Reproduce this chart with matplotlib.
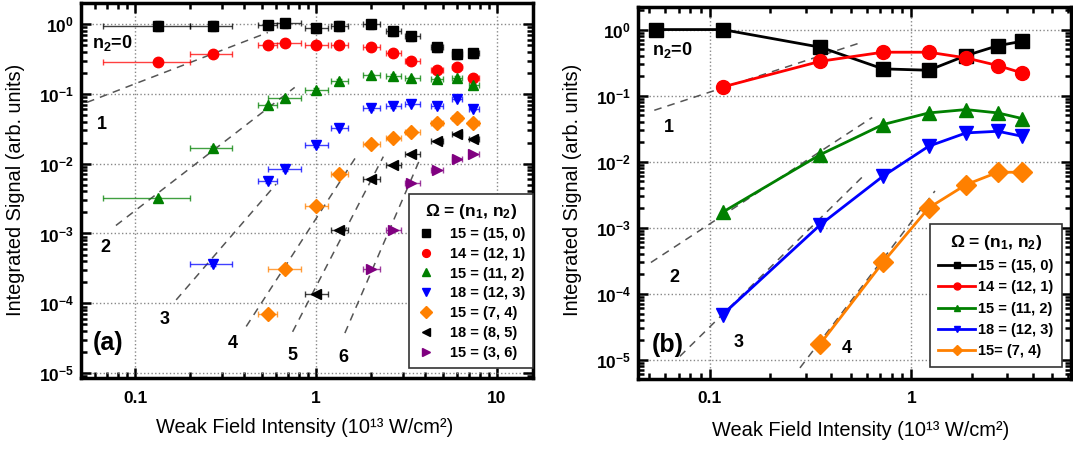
import numpy as np
import matplotlib
matplotlib.use("Agg")
import matplotlib.pyplot as plt
from matplotlib.ticker import FixedLocator, FuncFormatter, LogLocator, NullFormatter

plt.rcParams['font.family'] = ['Liberation Sans', 'DejaVu Sans']
plt.rcParams['mathtext.fontset'] = 'custom'
plt.rcParams['mathtext.rm'] = 'Liberation Sans:bold'
plt.rcParams['mathtext.it'] = 'Liberation Sans:bold'
plt.rcParams['mathtext.bf'] = 'Liberation Sans:bold'
plt.rcParams['mathtext.default'] = 'regular'

# ---------------- Panel (a) data ----------------
xa = [0.133, 0.267, 0.54, 0.67, 1.0, 1.33, 2.0, 2.67, 3.33, 4.67, 6.0, 7.4]
xa_lo = [0.066, 0.20, 0.475, 0.54, 0.87, 1.20, 1.81, 2.44, 3.08, 4.33, 5.6, 7.0]
xa_hi = [0.20, 0.34, 0.61, 0.82, 1.16, 1.50, 2.24, 2.96, 3.74, 5.03, 6.4, 7.9]

a_labels = ["15 = (15, 0)", "14 = (12, 1)", "15 = (11, 2)", "18 = (12, 3)",
            "15 = (7, 4)", "18 = (8, 5)", "15 = (3, 6)"]
a_start = [0, 0, 0, 1, 2, 4, 6]
a_y15_0 = [0.95, 0.95, 0.97, 1.02, 0.87, 0.95, 1.0, 0.785, 0.665, 0.47, 0.37, 0.38]
a_y14_1 = [0.29, 0.37, 0.50, 0.53, 0.50, 0.50, 0.47, 0.39, 0.30, 0.22, 0.24, 0.17]
a_y15_2 = [0.0032, 0.0169, 0.0686, 0.0865, 0.114, 0.153, 0.185, 0.181, 0.168, 0.162, 0.171, 0.133]
a_y18_3 = [3.6e-4, 5.6e-3, 8.4e-3, 0.0185, 0.0327, 0.062, 0.067, 0.072, 0.067, 0.085, 0.061]
a_y15_4 = [7.0e-5, 3.1e-4, 2.45e-3, 7.0e-3, 0.0189, 0.0235, 0.0287, 0.0386, 0.0456, 0.0378]
a_y18_5 = [1.36e-4, 1.11e-3, 6.1e-3, 9.5e-3, 0.0136, 0.0211, 0.0269, 0.0228]
a_y15_6 = [3.1e-4, 1.11e-3, 5.2e-3, 8.1e-3, 0.0117, 0.0136]
a_yerr_frac = [0.15, 0.05, 0.05, 0.05, 0.0, 0.0, 0.0]

a_colors = ['black', '#ff0000', '#008000', '#0000ff', '#ff8000', 'black', '#800080']
a_markers = ['s', 'o', '^', 'v', 'D', '<', '>']

a_guide_power = [1, 2, 3, 4, 5, 6]
a_guide_coef = [1.4, 0.214, 0.0236, 1.65e-3, 1.76e-4, 4.2e-6]
a_guide_xmin = [0.054, 0.078, 0.168, 0.41, 0.74, 1.44]
a_guide_xmax = [0.54, 0.76, 0.60, 1.70, 2.35, 3.8]

# ---------------- Panel (b) data ----------------
xb = [0.054, 0.1156, 0.354, 0.723, 1.22, 1.87, 2.69, 3.55]
b_labels = ["15 = (15, 0)", "14 = (12, 1)", "15 = (11, 2)", "18 = (12, 3)", "15= (7, 4)"]
b_start = [0, 1, 1, 1, 2]
b_y15_0 = [1.0, 1.0, 0.54, 0.254, 0.242, 0.404, 0.57, 0.665]
b_y14_1 = [0.135, 0.331, 0.454, 0.454, 0.372, 0.285, 0.22]
b_y15_2 = [1.71e-3, 0.0128, 0.0364, 0.0546, 0.0614, 0.0546, 0.0449]
b_y18_3 = [4.8e-5, 1.11e-3, 6.0e-3, 0.0171, 0.0272, 0.0288, 0.0242]
b_y15_4 = [1.75e-5, 2.98e-4, 1.99e-3, 4.48e-3, 6.9e-3, 6.9e-3]
b_colors = ['black', '#ff0000', '#008000', '#0000ff', '#ff8000']
b_markers = ['s', 'o', '^', 'v', 'D']

b_guide_power = [1, 2, 3, 4]
b_guide_coef = [1.13, 0.114, 0.0314, 1.22e-3]
b_guide_xmin = [0.053, 0.051, 0.071, 0.28]
b_guide_xmax = [0.55, 0.64, 0.57, 1.31]

# ---------------- Figure ----------------
fig = plt.figure(figsize=(10.73, 4.49), dpi=100)
axa = fig.add_axes([0.0755, 0.158, 0.4212, 0.8353])
axb = fig.add_axes([0.5946, 0.156, 0.4035, 0.8285])


def style_axes(ax, xlim, ylim, xticks):
    ax.set_xscale('log')
    ax.set_yscale('log')
    ax.set_xlim(*xlim)
    ax.set_ylim(*ylim)
    ax.xaxis.set_major_locator(FixedLocator(xticks))
    ax.xaxis.set_major_formatter(FuncFormatter(lambda v, p: ('%g' % v)))
    ax.xaxis.set_minor_locator(LogLocator(base=10, subs=np.arange(2, 10), numticks=20))
    ax.xaxis.set_minor_formatter(NullFormatter())
    yt = [1e-5, 1e-4, 1e-3, 1e-2, 1e-1, 1e0]
    ax.yaxis.set_major_locator(FixedLocator(yt))
    ax.yaxis.set_major_formatter(FuncFormatter(lambda v, p: r'10$^{%d}$' % int(round(np.log10(v)))))
    ax.yaxis.set_minor_locator(LogLocator(base=10, subs=np.arange(2, 10), numticks=20))
    ax.yaxis.set_minor_formatter(NullFormatter())
    ax.tick_params(which='both', direction='in', top=True, right=True, width=1.8)
    ax.tick_params(which='major', length=7, labelsize=12.5, pad=5)
    ax.tick_params(axis='x', which='major', pad=9)
    ax.tick_params(which='minor', length=4)
    for lbl in ax.get_xticklabels() + ax.get_yticklabels():
        lbl.set_fontweight('bold')
    for s in ax.spines.values():
        s.set_linewidth(2.5)
    ax.grid(True, which='major', color='#888888', linestyle=':', linewidth=1.0)
    ax.set_axisbelow(True)


style_axes(axa, (0.05, 15.8), (8.5e-6, 2.0), [0.1, 1, 10])
style_axes(axb, (0.044, 6.2), (5.1e-6, 2.2), [0.1, 1])

# Panel (a) guides
for p, c, x0, x1 in zip(a_guide_power, a_guide_coef, a_guide_xmin, a_guide_xmax):
    gx = np.array([x0, x1])
    axa.plot(gx, c * gx ** p, color='#555555', lw=1.1, dashes=(5, 4), zorder=2)

# Panel (a) series
a_series = [a_y15_0, a_y14_1, a_y15_2, a_y18_3, a_y15_4, a_y18_5, a_y15_6]
for ys, st, col, mk, lab, yf in zip(a_series, a_start, a_colors, a_markers, a_labels, a_yerr_frac):
    xs = np.array(xa[st:st + len(ys)])
    lo = xs - np.array(xa_lo[st:st + len(ys)])
    hi = np.array(xa_hi[st:st + len(ys)]) - xs
    yv = np.array(ys)
    yerr = yv * yf if yf > 0 else None
    axa.errorbar(xs, yv, xerr=[lo, hi], yerr=yerr, fmt='none', ecolor=col,
                 elinewidth=1.0, capsize=2.5, capthick=1.0, alpha=0.75, zorder=3)
    axa.plot(xs, yv, linestyle='none', marker=mk, color=col, markersize=7.5,
             label=lab, zorder=4)

leg = axa.legend(loc='lower right', bbox_to_anchor=(1.0, 0.027), borderaxespad=0,
                 frameon=True, fancybox=False, edgecolor='#333333', framealpha=1,
                 prop={'weight': 'bold', 'size': 10.5}, markerscale=0.75,
                 handlelength=1.2, handletextpad=1.0, labelspacing=0.4,
                 borderpad=0.55, title=r'$\Omega$ = (n$_1$, n$_2$)',
                 title_fontproperties={'weight': 'bold', 'size': 12.5})
leg.get_frame().set_linewidth(1.2)

# Panel (a) text
ta = dict(transform=axa.transAxes, fontsize=13, fontweight='bold', va='center')
axa.text(0.024, 0.893, r'n$_2$=0', ha='left', **ta)
axa.text(0.046, 0.675, '1', ha='center', **ta)
axa.text(0.053, 0.347, '2', ha='center', **ta)
axa.text(0.184, 0.155, '3', ha='center', **ta)
axa.text(0.336, 0.093, '4', ha='center', **ta)
axa.text(0.467, 0.061, '5', ha='center', **ta)
axa.text(0.580, 0.056, '6', ha='center', **ta)
axa.text(0.027, 0.093, '(a)', transform=axa.transAxes, fontsize=18, fontweight='bold',
         ha='left', va='center')

# Panel (b) guides
for p, c, x0, x1 in zip(b_guide_power, b_guide_coef, b_guide_xmin, b_guide_xmax):
    gx = np.array([x0, x1])
    axb.plot(gx, c * gx ** p, color='#555555', lw=1.1, dashes=(5, 4), zorder=2)

# Panel (b) series
b_series = [b_y15_0, b_y14_1, b_y15_2, b_y18_3, b_y15_4]
for ys, st, col, mk, lab in zip(b_series, b_start, b_colors, b_markers, b_labels):
    xs = np.array(xb[st:st + len(ys)])
    axb.plot(xs, ys, linestyle='-', linewidth=2.0, marker=mk, color=col,
             markersize=10, label=lab, zorder=4)

legb = axb.legend(loc='lower right', bbox_to_anchor=(0.979, 0.032), borderaxespad=0,
                  frameon=True, fancybox=False, edgecolor='#333333', framealpha=1,
                  prop={'weight': 'bold', 'size': 10.5}, markerscale=0.5,
                  handlelength=2.5, handletextpad=0.2, labelspacing=0.5,
                  borderpad=0.6, title=r'$\Omega$ = (n$_1$, n$_2$)',
                  title_fontproperties={'weight': 'bold', 'size': 12.5})
legb.get_frame().set_linewidth(1.2)

tb = dict(transform=axb.transAxes, fontsize=13, fontweight='bold', va='center')
axb.text(0.032, 0.884, r'n$_2$=0', ha='left', **tb)
axb.text(0.072, 0.675, '1', ha='center', **tb)
axb.text(0.085, 0.274, '2', ha='center', **tb)
axb.text(0.233, 0.099, '3', ha='center', **tb)
axb.text(0.483, 0.083, '4', ha='center', **tb)
axb.text(0.032, 0.091, '(b)', transform=axb.transAxes, fontsize=18, fontweight='bold',
         ha='left', va='center')

# Axis labels
fig.text(0.014, 0.577, 'Integrated Signal (arb. units)', rotation=90, ha='center',
         va='center', fontsize=14.4)
fig.text(0.534, 0.577, 'Integrated Signal (arb. units)', rotation=90, ha='center',
         va='center', fontsize=14.4)
fig.text(305 / 1073, 0.047, 'Weak Field Intensity (10\u00b9\u00b3 W/cm\u00b2)', ha='center',
         va='center', fontsize=14.4)
fig.text(861 / 1073, 0.042, 'Weak Field Intensity (10\u00b9\u00b3 W/cm\u00b2)', ha='center',
         va='center', fontsize=14.4)

fig.savefig('out.png', dpi=100)
